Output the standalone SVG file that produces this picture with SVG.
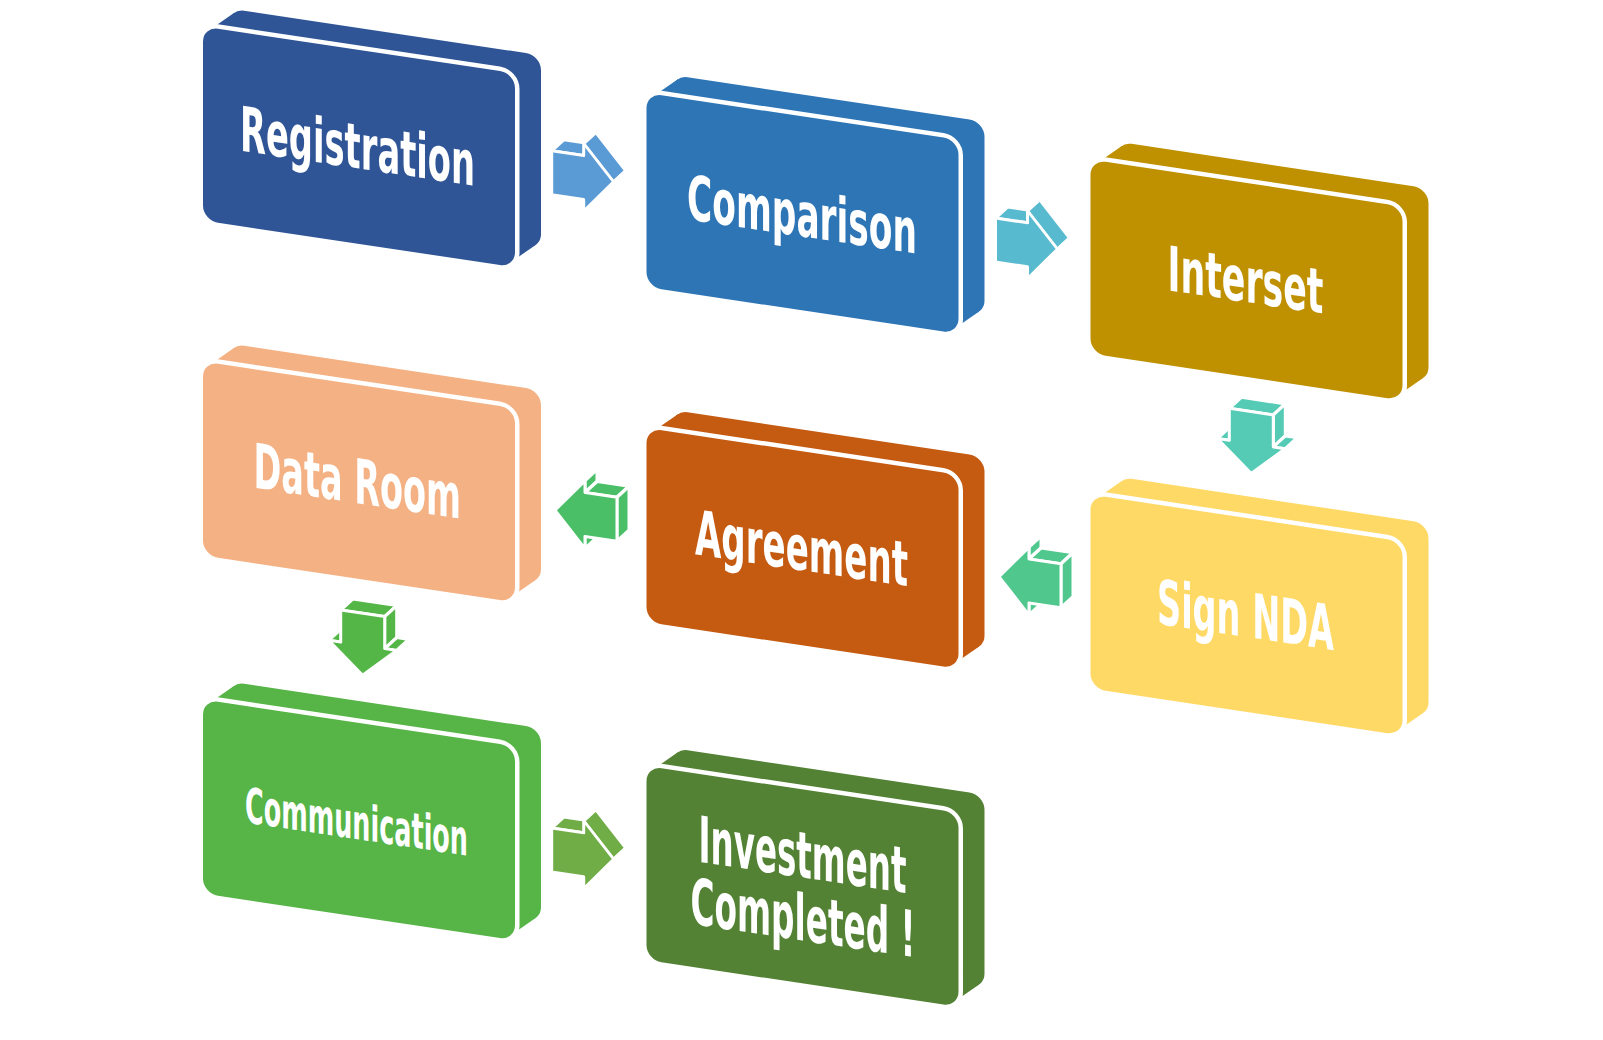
<svg xmlns="http://www.w3.org/2000/svg" xmlns:xlink="http://www.w3.org/1999/xlink" width="1603" height="1040" viewBox="0 0 1603 1040">
  <style>
    .face { fill: currentColor; stroke: #ffffff; stroke-width: 9; paint-order: stroke; }
    .side { fill: currentColor; }
    .af { fill: currentColor; stroke: #ffffff; stroke-width: 3; stroke-linejoin: round; }
    .label { font-family: "DejaVu Sans Condensed", "DejaVu Sans", "Liberation Sans", sans-serif; font-weight: bold; font-stretch: condensed; fill: #ffffff; }
  </style>
  <defs>
    <!-- extruded rounded block, drawn in local (pre-skew) coordinates -->
    <g id="box-shape">
      <rect class="side" x="26" y="-21.9" width="312" height="194" rx="15"/>
      <polygon class="side" points="5.34,3.53 31.34,-18.37 332.66,168.57 306.66,190.47"/>
      <rect class="face" x="0" y="0" width="312" height="194" rx="15"/>
    </g>
    <!-- 3D block arrows: visible side faces first, front face last -->
    <g id="arrow-right">
      <polygon class="af" points="0,0 32,0 44,-12.8 12,-12.8"/>
      <polygon class="af" points="32,-12 62,22 74,9.2 44,-24.8"/>
      <polygon class="af" points="62,22 32,56 44,43.2 74,9.2"/>
      <path class="af" d="M0,0 H32 V-12 L62,22 L32,56 V44 H0 Z"/>
    </g>
    <g id="arrow-down">
      <polygon class="af" points="0,0 44,0 56,-12.8 12,-12.8"/>
      <polygon class="af" points="44,0 44,32 56,19.2 56,-12.8"/>
      <polygon class="af" points="-12,32 0,32 12,19.2 0,19.2"/>
      <polygon class="af" points="44,32 56,32 68,19.2 56,19.2"/>
      <path class="af" d="M0,0 H44 V32 H56 L22,62 L-12,32 H0 Z"/>
    </g>
    <g id="arrow-left">
      <polygon class="af" points="30,-12 30,0 42,-12.8 42,-24.8"/>
      <polygon class="af" points="30,0 62,0 74,-12.8 42,-12.8"/>
      <polygon class="af" points="62,0 62,44 74,31.2 74,-12.8"/>
      <polygon class="af" points="30,44 30,56 42,43.2 42,31.2"/>
      <path class="af" d="M0,22 L30,-12 V0 H62 V44 H30 V56 Z"/>
    </g>
  </defs>

  <rect width="1603" height="1040" fill="#ffffff"/>

  <!-- connectors -->
  <g id="connectors">
    <use xlink:href="#arrow-right" href="#arrow-right" transform="translate(551.7,150.7) skewY(8.5308)" color="#5B9BD5"/>
    <use xlink:href="#arrow-right" href="#arrow-right" transform="translate(995.5,218) skewY(8.5308)" color="#58BACF"/>
    <use xlink:href="#arrow-down" href="#arrow-down" transform="translate(1229.3,408.3) skewY(8.5308)" color="#55CBB6"/>
    <use xlink:href="#arrow-left" href="#arrow-left" transform="translate(999,554.5) skewY(8.5308)" color="#4FC78D"/>
    <use xlink:href="#arrow-left" href="#arrow-left" transform="translate(555,488) skewY(8.5308)" color="#4ABF68"/>
    <use xlink:href="#arrow-down" href="#arrow-down" transform="translate(340.7,610) skewY(8.5308)" color="#55B648"/>
    <use xlink:href="#arrow-right" href="#arrow-right" transform="translate(551.7,828) skewY(8.5308)" color="#70AD47"/>
  </g>

  <!-- nodes -->
  <g id="node-registration" transform="translate(203,26.5) skewY(8.5308)" color="#2F5597">
    <use xlink:href="#box-shape" href="#box-shape"/>
    <text class="label" x="37" y="118.5" font-size="62" textLength="235" lengthAdjust="spacingAndGlyphs">Registration</text>
  </g>
  <g id="node-comparison" transform="translate(646.5,93) skewY(8.5308)" color="#2E75B6">
    <use xlink:href="#box-shape" href="#box-shape"/>
    <text class="label" x="40.5" y="120" font-size="62" textLength="230" lengthAdjust="spacingAndGlyphs">Comparison</text>
  </g>
  <g id="node-interset" transform="translate(1090.5,159.6) skewY(8.5308)" color="#BF9000">
    <use xlink:href="#box-shape" href="#box-shape"/>
    <text class="label" x="77" y="119" font-size="62" textLength="156" lengthAdjust="spacingAndGlyphs">Interset</text>
  </g>
  <g id="node-data-room" transform="translate(203,361.5) skewY(8.5308)" color="#F4B183">
    <use xlink:href="#box-shape" href="#box-shape"/>
    <text class="label" x="50.5" y="118.5" font-size="62" textLength="207.5" lengthAdjust="spacingAndGlyphs">Data Room</text>
  </g>
  <g id="node-agreement" transform="translate(646.5,428) skewY(8.5308)" color="#C55A11">
    <use xlink:href="#box-shape" href="#box-shape"/>
    <text class="label" x="48.5" y="119" font-size="62" textLength="213" lengthAdjust="spacingAndGlyphs">Agreement</text>
  </g>
  <g id="node-sign-nda" transform="translate(1090.5,494.6) skewY(8.5308)" color="#FFD966">
    <use xlink:href="#box-shape" href="#box-shape"/>
    <text class="label" x="66.5" y="119" font-size="62" textLength="177" lengthAdjust="spacingAndGlyphs">Sign NDA</text>
  </g>
  <g id="node-communication" transform="translate(203,699.5) skewY(8.5308)" color="#57B447">
    <use xlink:href="#box-shape" href="#box-shape"/>
    <text class="label" x="42" y="116.5" font-size="49" textLength="223" lengthAdjust="spacingAndGlyphs">Communication</text>
  </g>
  <g id="node-investment-completed" transform="translate(646.5,766) skewY(8.5308)" color="#548235">
    <use xlink:href="#box-shape" href="#box-shape"/>
    <text class="label" x="52" y="88" font-size="64" textLength="208" lengthAdjust="spacingAndGlyphs">Investment</text>
    <text class="label" x="44" y="151" font-size="64" textLength="225" lengthAdjust="spacingAndGlyphs">Completed !</text>
  </g>
</svg>
